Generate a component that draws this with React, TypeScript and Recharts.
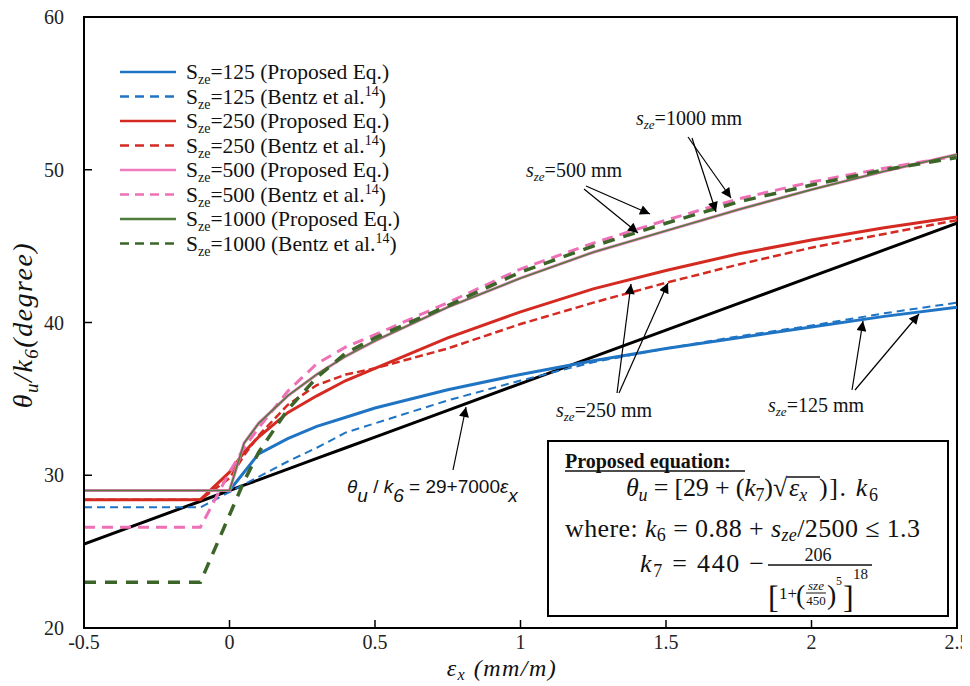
import React from 'react';
import { LineChart, Line, XAxis, YAxis, ReferenceArea, Legend } from 'recharts';

// strain values (mm/m) at which curves were read
const strain = [-0.5, -0.1, 0, 0.05, 0.1, 0.2, 0.3, 0.4, 0.5, 0.75, 1.0, 1.25, 1.5, 1.75, 2.0, 2.25, 2.5];
const linearRef = [25.5, 28.3, 29, 29.35, 29.7, 30.4, 31.1, 31.8, 32.5, 34.25, 36, 37.75, 39.5, 41.25, 43, 44.75, 46.5];
const prop125 = [29, 29, 29, 30.2, 31.4, 32.4, 33.2, 33.8, 34.4, 35.6, 36.6, 37.5, 38.3, 39.0, 39.7, 40.4, 41.0];
const bentz125 = [27.9, 27.9, 28.9, 29.4, 29.9, 30.9, 31.8, 32.8, 33.4, 34.9, 36.2, 37.4, 38.3, 39.1, 39.8, 40.6, 41.3];
const prop250 = [28.4, 28.4, 30.2, 31.5, 32.5, 34.1, 35.2, 36.2, 37.0, 39.0, 40.7, 42.2, 43.4, 44.5, 45.4, 46.2, 46.9];
const bentz250 = [28.4, 28.4, 29.8, 31.3, 32.6, 34.6, 35.9, 36.6, 37.0, 38.3, 39.9, 41.3, 42.6, 43.8, 44.9, 45.8, 46.7];
const prop500 = [29, 29, 29, 32.1, 33.4, 35.2, 36.6, 37.8, 38.8, 41.0, 42.9, 44.6, 46.0, 47.4, 48.7, 49.9, 51.0];
const bentz500 = [26.6, 26.6, 30.2, 31.8, 33.1, 35.5, 37.3, 38.4, 39.2, 41.3, 43.5, 45.2, 46.7, 48.1, 49.2, 50.1, 50.9];
const prop1000 = [29, 29, 29, 32.1, 33.4, 35.2, 36.6, 37.8, 38.8, 41.0, 42.9, 44.6, 46.0, 47.4, 48.7, 49.9, 51.0];
const bentz1000 = [23.0, 23.0, 27.4, 29.6, 31.5, 34.3, 36.4, 38.0, 39.0, 41.1, 43.3, 45.0, 46.5, 47.9, 49.0, 50.0, 50.8];

const xTicks = [-0.5, 0, 0.5, 1, 1.5, 2, 2.5];
const yTicks = [20, 30, 40, 50, 60];

const data = strain.map((x, i) => ({
  x,
  lin: linearRef[i],
  p125: prop125[i],
  b125: bentz125[i],
  p250: prop250[i],
  b250: bentz250[i],
  p500: prop500[i],
  b500: bentz500[i],
  p1000: prop1000[i],
  b1000: bentz1000[i],
}));

type S = { key: string; size: string; src: string; color: string; width: number; dash?: string; legendDash?: string };
const series: S[] = [
  { key: 'p125', size: '125', src: 'Proposed Eq.', color: '#1f74c4', width: 3 },
  { key: 'b125', size: '125', src: 'Bentz', color: '#1f74c4', width: 2, dash: '8 5', legendDash: '9 6' },
  { key: 'p250', size: '250', src: 'Proposed Eq.', color: '#d42a22', width: 3 },
  { key: 'b250', size: '250', src: 'Bentz', color: '#d42a22', width: 2.5, dash: '8 4', legendDash: '9 6' },
  { key: 'p500', size: '500', src: 'Proposed Eq.', color: '#ee7cbe', width: 3 },
  { key: 'b500', size: '500', src: 'Bentz', color: '#ee70b6', width: 3, dash: '11 7', legendDash: '9 6' },
  { key: 'p1000', size: '1000', src: 'Proposed Eq.', color: '#4f7c3c', width: 1.6 },
  { key: 'b1000', size: '1000', src: 'Bentz', color: '#3c6629', width: 3.5, dash: '12 9', legendDash: '9 6' },
];

const SERIF = '"Liberation Serif", "Times New Roman", serif';
const SANS = '"Liberation Sans", Arial, sans-serif';

const LegendBox = () => (
  <svg width={340} height={210} style={{ display: 'block', overflow: 'visible' }}>
    {series.map((s, i) => {
      const cy = 9 + 24.5 * i;
      return (
        <g key={s.key}>
          <line x1={2} x2={58} y1={cy} y2={cy} stroke={s.color} strokeWidth={2.5} strokeDasharray={s.legendDash} />
          <text x={68} y={cy + 7} fontFamily={SERIF} fontSize={21.5} fill="#111">
            S<tspan fontSize={14} dy={5}>ze</tspan>
            <tspan dy={-5}>={s.size} </tspan>
            {s.src === 'Bentz' ? (
              <>
                <tspan>(Bentz et al.</tspan>
                <tspan fontSize={14} dy={-8}>14</tspan>
                <tspan dy={8}>)</tspan>
              </>
            ) : (
              <tspan>(Proposed Eq.)</tspan>
            )}
          </text>
        </g>
      );
    })}
  </svg>
);

const arrows = [
  [688, 137, 731, 198],
  [692, 138, 716, 212],
  [586, 186, 650, 214],
  [584, 189, 638, 233],
  [617, 393, 631, 284],
  [619, 393, 668, 283],
  [852, 390, 863, 321],
  [855, 390, 919, 314],
  [453, 470, 466, 407],
];

const SzeLabel = ({ x, y, v, anchor }: { x: number; y: number; v: string; anchor?: string }) => (
  <text x={x} y={y} fontFamily={SERIF} fontSize={20} fill="#111" textAnchor={anchor || 'start'}>
    <tspan fontStyle="italic">s</tspan>
    <tspan fontStyle="italic" fontSize={13} dy={4}>ze</tspan>
    <tspan dy={-4}>={v} mm</tspan>
  </text>
);

const Overlay = () => (
  <svg width={970} height={686} style={{ position: 'absolute', left: 0, top: 0, pointerEvents: 'none' }}>
    <defs>
      <marker id="ah" viewBox="0 0 10 10" refX="10" refY="5" markerWidth="14" markerHeight="10" markerUnits="userSpaceOnUse" orient="auto">
        <path d="M0,0 L10,5 L0,10 z" fill="#000" />
      </marker>
    </defs>
    {arrows.map((a, i) => (
      <line key={i} x1={a[0]} y1={a[1]} x2={a[2]} y2={a[3]} stroke="#000" strokeWidth={1.2} markerEnd="url(#ah)" />
    ))}
    <SzeLabel x={742} y={125} v="1000" anchor="end" />
    <SzeLabel x={622} y={177} v="500" anchor="end" />
    <SzeLabel x={556} y={417} v="250" />
    <SzeLabel x={768} y={412} v="125" />
    <text x={347} y={493} fontFamily={SANS} fontSize={19} fill="#111">
      <tspan fontStyle="italic">θ</tspan>
      <tspan fontStyle="italic" dy={9}>u</tspan>
      <tspan dy={-9}> / </tspan>
      <tspan fontStyle="italic">k</tspan>
      <tspan fontStyle="italic" dy={9}>6</tspan>
      <tspan dy={-9}> = 29+7000</tspan>
      <tspan fontStyle="italic">ε</tspan>
      <tspan fontStyle="italic" dy={9}>x</tspan>
    </text>
    {/* axis titles */}
    <text transform="rotate(-90, 24, 325)" x={24} y={333} textAnchor="middle" fontFamily={SERIF} fontSize={28} letterSpacing={1.5} fontStyle="italic" fill="#111">
      θ<tspan fontSize={19} dy={6}>u</tspan>
      <tspan dy={-6}>/k</tspan>
      <tspan fontSize={19} dy={6}>6</tspan>
      <tspan dy={-6}>(degree)</tspan>
    </text>
    <text x={502} y={676} textAnchor="middle" fontFamily={SERIF} fontSize={24} letterSpacing={1.5} fontStyle="italic" fill="#111">
      ε<tspan fontSize={16} dy={4}>x</tspan>
      <tspan dy={-4}> (mm/m)</tspan>
    </text>
    {/* equation box */}
    <rect x={548} y={441} width={400} height={175} fill="#fff" stroke="#000" strokeWidth={2} />
    <text x={565} y={468} fontFamily={SERIF} fontSize={20} fontWeight="bold" fill="#111">
      Proposed equation:
    </text>
    <line x1={565} x2={745} y1={471} y2={471} stroke="#111" strokeWidth={1.5} />
    <text x={626} y={496} fontFamily={SERIF} fontSize={26} fill="#111" textLength={147} lengthAdjust="spacing">
      <tspan fontStyle="italic">θ</tspan>
      <tspan fontStyle="italic" fontSize={18} dy={5}>u</tspan>
      <tspan dy={-5}> = [29 + (</tspan>
      <tspan fontStyle="italic">k</tspan>
      <tspan fontSize={18} dy={5}>7</tspan>
      <tspan dy={-5}>)</tspan>
    </text>
    <text x={773} y={496} fontFamily={SERIF} fontSize={26} fill="#111">√</text>
    <line x1={787} x2={820} y1={477} y2={477} stroke="#111" strokeWidth={1.3} />
    <text x={789} y={496} fontFamily={SERIF} fontSize={26} fontStyle="italic" fill="#111">
      ε<tspan fontSize={18} dy={5}>x</tspan>
    </text>
    <text x={819} y={496} fontFamily={SERIF} fontSize={26} fill="#111" textLength={59} lengthAdjust="spacing">
      )]. <tspan fontStyle="italic">k</tspan>
      <tspan fontSize={18} dy={5}>6</tspan>
    </text>
    <text x={565} y={537} fontFamily={SERIF} fontSize={26} fill="#111" textLength={355} lengthAdjust="spacing">
      where: <tspan fontStyle="italic">k</tspan>
      <tspan fontSize={18} dy={4}>6</tspan>
      <tspan dy={-4}> = 0.88 + </tspan>
      <tspan fontStyle="italic">s</tspan>
      <tspan fontStyle="italic" fontSize={18} dy={4}>ze</tspan>
      <tspan dy={-4}>/2500 ≤ 1.3</tspan>
    </text>
    <text x={640} y={572} fontFamily={SERIF} fontSize={26} fill="#111" textLength={124} lengthAdjust="spacing">
      <tspan fontStyle="italic">k</tspan>
      <tspan fontSize={18} dy={5}>7</tspan>
      <tspan dy={-5}> = 440 −</tspan>
    </text>
    <text x={818} y={561} textAnchor="middle" fontFamily={SERIF} fontSize={18} fill="#111">206</text>
    <line x1={768} x2={872} y1={565} y2={565} stroke="#111" strokeWidth={1.3} />
    <text x={768} y={608} fontFamily={SERIF} fontSize={32} fill="#111">[</text>
    <text x={779} y={599} fontFamily={SERIF} fontSize={17} fill="#111">1+</text>
    <text x={796} y={604} fontFamily={SERIF} fontSize={28} fill="#111">(</text>
    <text x={816} y={590} textAnchor="middle" fontFamily={SERIF} fontSize={13} fontStyle="italic" fill="#111">sze</text>
    <line x1={806} x2={826} y1={593} y2={593} stroke="#111" strokeWidth={1} />
    <text x={816} y={605} textAnchor="middle" fontFamily={SERIF} fontSize={13} fill="#111">450</text>
    <text x={827} y={604} fontFamily={SERIF} fontSize={28} fill="#111">)</text>
    <text x={836} y={585} fontFamily={SERIF} fontSize={12} fill="#111">5</text>
    <text x={843} y={608} fontFamily={SERIF} fontSize={32} fill="#111">]</text>
    <text x={853} y={579} fontFamily={SERIF} fontSize={15} fill="#111">18</text>
  </svg>
);

export default function App() {
  return (
    <div style={{ position: 'relative', width: 970, height: 686, margin: '-8px 0 0 -8px' }}>
      <style>{'html{overflow:hidden}'}</style>
      <LineChart width={970} height={686} data={data} margin={{ top: 17, right: 13, bottom: 28, left: 24 }}>
        <XAxis
          dataKey="x"
          type="number"
          domain={[-0.5, 2.5]}
          ticks={xTicks}
          height={30}
          tickSize={-8}
          tickMargin={15}
          interval={0}
          axisLine={{ stroke: '#000', strokeWidth: 2 }}
          tickLine={{ stroke: '#000', strokeWidth: 1.5 }}
          tick={{ fontFamily: SERIF, fontSize: 20, fill: '#222' }}
          allowDataOverflow
        />
        <YAxis
          type="number"
          domain={[20, 60]}
          ticks={yTicks}
          width={60}
          tickSize={-8}
          tickMargin={28}
          interval={0}
          axisLine={{ stroke: '#000', strokeWidth: 2 }}
          tickLine={{ stroke: '#000', strokeWidth: 1.5 }}
          tick={{ fontFamily: SERIF, fontSize: 20, fill: '#222' }}
          allowDataOverflow
        />
        <ReferenceArea x1={-0.5} x2={2.5} y1={20} y2={60} fill="none" fillOpacity={0} stroke="#000" strokeWidth={2} />
        <Line dataKey="lin" stroke="#000" strokeWidth={3} dot={false} isAnimationActive={false} legendType="none" />
        {series.map((s) => (
          <Line
            key={s.key}
            dataKey={s.key}
            stroke={s.color}
            strokeWidth={s.width}
            strokeDasharray={s.dash}
            dot={false}
            activeDot={false}
            isAnimationActive={false}
          />
        ))}
        <Legend
          layout="horizontal"
          verticalAlign="middle"
          align="center"
          content={() => <LegendBox />}
          wrapperStyle={{ position: 'absolute', left: 118, top: 63, width: 340, height: 210 }}
        />
      </LineChart>
      <Overlay />
    </div>
  );
}
